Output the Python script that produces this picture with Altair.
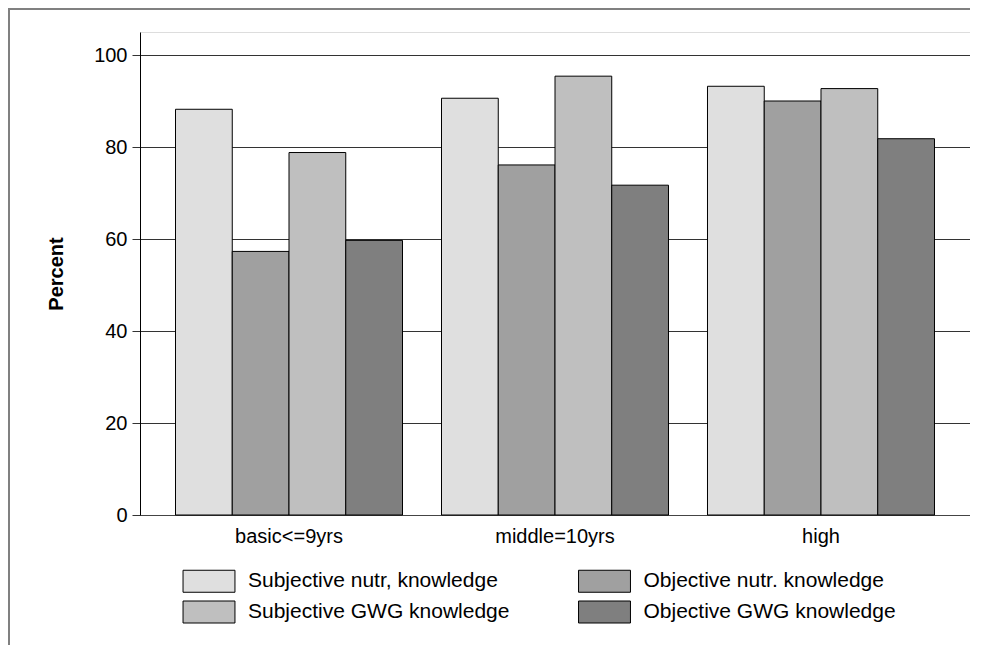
import altair as alt
import pandas as pd

groups = ["basic<=9yrs", "middle=10yrs", "high"]
series = [
    "Subjective nutr, knowledge",
    "Objective nutr. knowledge",
    "Subjective GWG knowledge",
    "Objective GWG knowledge",
]
subj_nutr = [88.2, 90.6, 93.2]
obj_nutr = [57.3, 76.1, 90.0]
subj_gwg = [78.8, 95.4, 92.7]
obj_gwg = [59.7, 71.7, 81.8]
colors = ["#dfdfdf", "#a0a0a0", "#bfbfbf", "#7f7f7f"]
y_ticks = [0, 20, 40, 60, 80, 100]

rows = []
for s, vals in zip(series, [subj_nutr, obj_nutr, subj_gwg, obj_gwg]):
    for g, v in zip(groups, vals):
        rows.append({"group": g, "series": s, "value": v})
df = pd.DataFrame(rows)

W, H = 830, 483
FONT = "Liberation Sans"

bars = alt.Chart(df).mark_bar(stroke="black", strokeWidth=1, opacity=1).encode(
    x=alt.X(
        "group:N",
        sort=groups,
        scale=alt.Scale(paddingInner=0.1466, paddingOuter=0.1335),
        axis=alt.Axis(
            title=None, labelAngle=0, ticks=False, labelFontSize=20,
            labelPadding=11, domainColor="#444444", labelColor="black",
            labelFont=FONT,
        ),
    ),
    xOffset=alt.XOffset(
        "series:N", sort=series, scale=alt.Scale(paddingInner=0, paddingOuter=0)
    ),
    y=alt.Y(
        "value:Q",
        scale=alt.Scale(domain=[0, 105], nice=False),
        axis=alt.Axis(
            values=y_ticks, title="Percent", titleFontSize=20, titleFontWeight="bold",
            titleFont=FONT, titleColor="black", titlePadding=27,
            labelFontSize=20, labelFont=FONT, labelColor="black", labelPadding=5,
            tickSize=8, tickColor="#333333", domainColor="black",
            grid=True, gridColor="#333333", gridWidth=1,
        ),
    ),
    fill=alt.Fill(
        "series:N",
        sort=series,
        scale=alt.Scale(domain=series, range=colors),
        legend=alt.Legend(
            title=None, orient="none", legendX=57.5, legendY=537.5, columns=2,
            direction="horizontal",
            columnPadding=66.5, rowPadding=4,
            symbolType="M-2.36,-1H2.36V1H-2.36Z", symbolSize=484,
            symbolStrokeColor="black", symbolStrokeWidth=1, symbolOpacity=1,
            labelFontSize=21, labelFont=FONT, labelOffset=27.5, labelColor="black",
            padding=0, labelLimit=400,
        ),
    ),
)

frame_data = pd.DataFrame({"k": [0]})
frame_top = alt.Chart(frame_data).mark_rule(stroke="#808080", strokeWidth=2).encode(
    x=alt.value(-131), x2=alt.value(840), y=alt.value(-23)
)
frame_left = alt.Chart(frame_data).mark_rule(stroke="#808080", strokeWidth=2).encode(
    x=alt.value(-131), y=alt.value(-24), y2=alt.value(700)
)

chart = alt.layer(frame_top, frame_left, bars).properties(
    width=W,
    height=H,
    padding={"left": 132, "top": 24, "right": 0, "bottom": 130},
    autosize="none",
).configure_view(stroke=None).configure(font=FONT)

chart.save("out.html", embed_options={"renderer": "svg", "actions": False})
